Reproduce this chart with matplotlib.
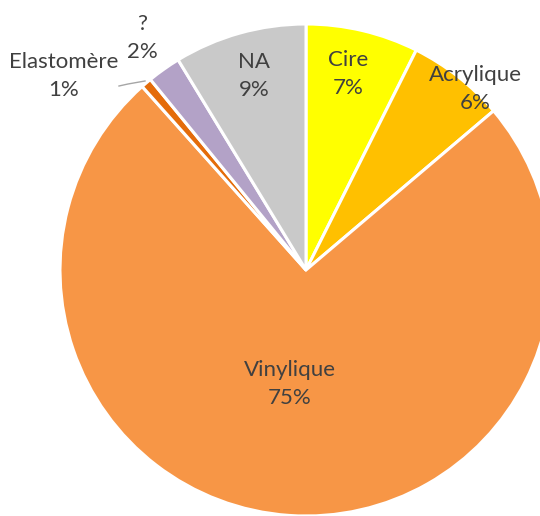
import matplotlib.pyplot as plt

# Chart data
categories = ['Cire', 'Acrylique', 'Vinylique', 'Elastomère', '?', 'NA']
shares = [7.4, 6.4, 74.6, 0.7, 2.2, 8.7]
pct_labels = ['7%', '6%', '75%', '1%', '2%', '9%']
colors = ['#FFFF00', '#FFC000', '#F79646', '#E46C0A', '#B3A2C7', '#C9C9C9']

# Label anchor points (pixels, origin top-left)
label_pos = [(348, 74), (475, 89), (290, 384), (64, 76), (142, 38), (254, 76)]

W, H = 540, 516
fig = plt.figure(figsize=(W / 100, H / 100), dpi=100)
ax = fig.add_axes([0, 0, 1, 1])

ax.pie(shares, colors=colors, startangle=90, counterclock=False,
       center=(306, H - 270), radius=246, frame=True,
       wedgeprops=dict(edgecolor='white', linewidth=2.2))
ax.set_xlim(0, W)
ax.set_ylim(0, H)
ax.set_aspect('equal')
ax.axis('off')

for name, pct, (x, y) in zip(categories, pct_labels, label_pos):
    ax.text(x, H - y, f'{name}\n{pct}', ha='center', va='center',
            fontsize=16, color='#404040', family='Lato', linespacing=1.5)

# Leader line for the tiny Elastomère slice
ax.plot([119, 128, 145], [H - 86, H - 84, H - 81], color='#A6A6A6', lw=1)

fig.savefig('out.png', dpi=100, facecolor='white')
